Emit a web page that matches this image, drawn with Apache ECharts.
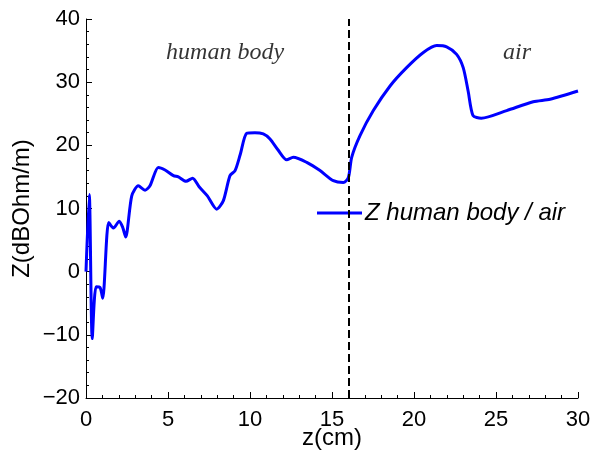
<!DOCTYPE html>
<html>
<head>
<meta charset="utf-8">
<script src="https://cdn.jsdelivr.net/npm/echarts@6/dist/echarts.min.js"></script>
<style>html,body{margin:0;padding:0;background:#fff}#c{width:593px;height:455px}</style>
</head>
<body>
<div id="c"></div>
<script>
// z position (cm)
const zValues = [0, 0.2, 0.38, 0.61, 0.85, 1.02, 1.38, 1.67, 2.03, 2.24, 2.42, 2.79, 3.19, 3.6, 3.9, 4.41, 4.82, 5.33, 5.63, 6.1, 6.5, 6.91, 7.4, 7.97, 8.37, 8.78, 9.09, 9.4, 9.8, 10.3, 10.81, 11.22, 11.7, 12.24, 12.64, 13.46, 14.27, 15.08, 15.69, 16.0, 16.2, 16.7, 17.52, 18.54, 19.55, 20.57, 21.38, 21.99, 22.6, 23.0, 23.3, 23.6, 24.1, 25.65, 27.27, 28.3, 30.0];
// Z impedance (dBOhm/m)
const impedance = [0, 12.2, -10.6, -2.4, -2.5, -4.2, 7.8, 6.9, 8.0, 7.0, 5.5, 12.0, 13.6, 12.9, 13.6, 16.5, 16.1, 15.2, 15.0, 14.3, 14.8, 13.4, 12.0, 9.9, 11.2, 15.2, 16.0, 18.5, 21.9, 22.0, 21.8, 21.0, 19.3, 17.7, 18.1, 17.3, 16.0, 14.4, 14.1, 14.9, 18.1, 21.5, 25.5, 29.4, 32.3, 34.7, 35.8, 35.6, 34.4, 32.3, 28.6, 24.7, 24.3, 25.5, 26.9, 27.3, 28.6];
const xTicks = [0, 5, 10, 15, 20, 25, 30];
const yTicks = [-20, -10, 0, 10, 20, 30, 40];
const boundaryZ = 16;
const regionLabels = ['human body', 'air'];
const regionLabelPos = [[8.48, 34.6], [26.28, 34.6]];
const seriesName = 'Z human body / air';

const chart = echarts.init(document.getElementById('c'), null, {renderer: 'canvas'});
const fmt = v => String(v).replace('-', '\u2212');
const axisCommon = {
  axisLine: {show: true, onZero: false, lineStyle: {color: '#000', width: 1}},
  axisTick: {show: true, inside: true, length: 6, lineStyle: {color: '#000'}},
  minorTick: {show: true, splitNumber: 5, length: 3, lineStyle: {color: '#000'}},
  splitLine: {show: false},
  axisLabel: {color: '#000', fontFamily: 'Liberation Sans', fontSize: 22, formatter: fmt},
  nameTextStyle: {color: '#000', fontFamily: 'Liberation Sans', fontSize: 24},
  nameMoveOverlap: false
};
chart.setOption({
  animation: false,
  grid: {left: 86, right: 15, top: 19, bottom: 57, containLabel: false, outerBoundsMode: 'none'},
  legend: {
    show: true, left: 312, top: 196, itemWidth: 45, itemHeight: 3, itemGap: 8,
    icon: 'rect',
    textStyle: {color: '#000', fontFamily: 'Liberation Sans', fontStyle: 'italic', fontSize: 24, padding: [0, 0, 0, -2]},
    data: [{name: seriesName}]
  },
  xAxis: Object.assign({}, axisCommon, {
    type: 'value', min: xTicks[0], max: xTicks[xTicks.length - 1], interval: 5,
    name: 'z(cm)', nameLocation: 'middle', nameGap: 28,
    axisLabel: Object.assign({}, axisCommon.axisLabel, {margin: 11})
  }),
  yAxis: Object.assign({}, axisCommon, {
    type: 'value', min: yTicks[0], max: yTicks[yTicks.length - 1], interval: 10,
    name: 'Z(dBOhm/m)', nameLocation: 'middle', nameGap: 52, nameRotate: 90,
    axisLabel: Object.assign({}, axisCommon.axisLabel, {margin: 6})
  }),
  series: [
    {
      name: seriesName, type: 'line', showSymbol: false, symbol: 'none', smooth: 0.25,
      lineStyle: {color: '#0000ff', width: 3}, itemStyle: {color: '#0000ff'},
      data: zValues.map((z, i) => [z, impedance[i]]),
      markLine: {
        silent: true, symbol: 'none', label: {show: false},
        lineStyle: {color: '#000', type: [8, 4], width: 2},
        data: [{xAxis: boundaryZ}]
      },
      z: 3
    },
    {
      name: 'labels', type: 'scatter', symbolSize: 0, silent: true,
      data: regionLabelPos.map((p, i) => ({value: p, name: regionLabels[i]})),
      label: {
        show: true, position: 'inside', formatter: p => p.name, color: '#000',
        fontFamily: 'Liberation Serif', fontStyle: 'italic', fontSize: 24
      }
    }
  ]
});
</script>
</body>
</html>
